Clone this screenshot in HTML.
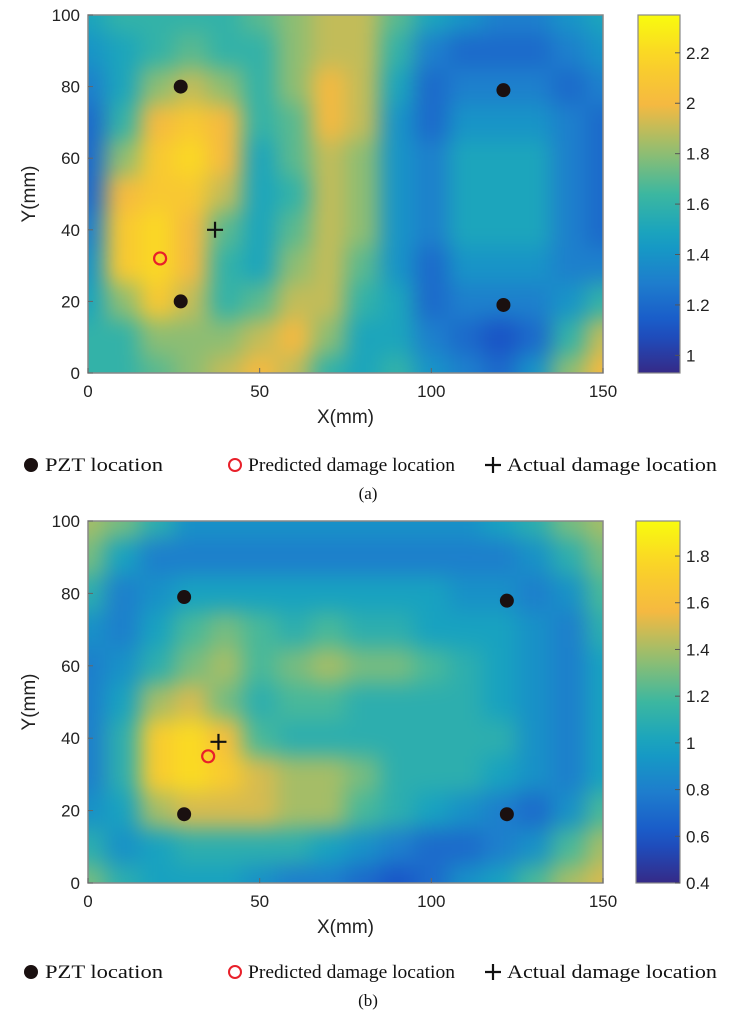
<!DOCTYPE html>
<html><head><meta charset="utf-8">
<style>
body{margin:0;background:#fff;width:737px;height:1024px;overflow:hidden}
svg{display:block}
.tk{font-family:"Liberation Sans",sans-serif;font-size:17px;fill:#222}
.lg{font-family:"Liberation Serif",serif;font-size:19px;fill:#111}
</style></head><body>
<svg id="chart" width="737" height="1024" viewBox="0 0 737 1024">
<defs>
<filter id="blurA" x="-10%" y="-10%" width="120%" height="120%" color-interpolation-filters="sRGB"><feGaussianBlur stdDeviation="11"/></filter>
<clipPath id="clipA"><rect x="88" y="15" width="515" height="358"/></clipPath>
<clipPath id="clipB"><rect x="88" y="521" width="515" height="362"/></clipPath>
</defs>
</svg>
<script>
const NS="http://www.w3.org/2000/svg";
const svg=document.getElementById('chart');
// grid x positions (mm) and y rows (mm, top to bottom)
const gridX=[0,10,20,30,40,50,60,70,80,90,100,110,120,130,140,150];
const gridY=[100,90,80,70,60,50,40,30,20,10,0];
const valuesA=[
[1.5,1.6,1.6,1.6,1.6,1.7,1.8,1.9,1.9,1.7,1.5,1.4,1.3,1.3,1.4,1.5],
[1.4,1.5,1.6,1.7,1.6,1.6,1.8,1.9,1.9,1.6,1.3,1.2,1.2,1.2,1.3,1.4],
[1.3,1.5,1.8,1.9,1.8,1.6,1.8,2.0,1.9,1.5,1.2,1.3,1.3,1.3,1.2,1.3],
[1.2,1.6,2.0,2.1,2.0,1.6,1.7,2.0,1.9,1.4,1.2,1.4,1.4,1.4,1.3,1.2],
[1.2,1.8,2.1,2.2,2.0,1.5,1.7,1.9,1.8,1.4,1.3,1.5,1.5,1.5,1.3,1.2],
[1.2,2.0,2.1,2.1,1.9,1.5,1.6,1.9,1.8,1.4,1.3,1.5,1.5,1.5,1.3,1.2],
[1.3,2.1,2.2,2.0,1.7,1.5,1.7,1.9,1.8,1.4,1.3,1.5,1.5,1.5,1.3,1.2],
[1.4,2.1,2.2,2.0,1.6,1.5,1.8,1.9,1.7,1.4,1.2,1.4,1.4,1.4,1.3,1.3],
[1.5,1.8,2.1,1.9,1.6,1.7,1.9,1.9,1.6,1.5,1.2,1.3,1.3,1.3,1.4,1.6],
[1.6,1.6,1.8,1.8,1.8,1.9,2.0,1.8,1.5,1.5,1.3,1.2,1.1,1.2,1.6,1.9],
[1.6,1.6,1.7,1.8,1.9,2.0,1.9,1.6,1.5,1.6,1.4,1.3,1.2,1.4,1.8,2.0]];
const valuesB=[
[1.4,1.3,1.1,0.9,0.9,0.9,0.9,0.9,0.9,0.9,0.9,0.9,1.0,1.1,1.3,1.4],
[1.3,1.0,0.8,0.8,0.8,0.8,0.8,0.8,0.8,0.8,0.8,0.8,0.8,0.9,1.1,1.3],
[1.1,0.8,0.9,1.0,1.0,1.0,1.0,1.0,1.0,1.0,1.0,0.9,0.9,0.8,0.9,1.2],
[0.9,0.8,1.0,1.2,1.3,1.2,1.1,1.2,1.1,1.1,1.0,1.0,1.0,0.9,0.8,1.1],
[0.8,0.9,1.1,1.3,1.4,1.2,1.3,1.4,1.3,1.3,1.2,1.1,1.0,0.9,0.8,1.0],
[0.8,1.0,1.4,1.5,1.3,1.1,1.2,1.2,1.1,1.1,1.1,1.1,1.0,0.9,0.8,1.0],
[0.8,1.1,1.7,1.8,1.6,1.2,1.1,1.1,1.1,1.1,1.1,1.1,1.1,0.9,0.8,1.0],
[0.8,1.1,1.7,1.8,1.7,1.5,1.4,1.4,1.3,1.1,1.1,1.1,1.0,0.9,0.8,1.0],
[0.9,1.0,1.4,1.5,1.5,1.5,1.4,1.4,1.2,1.1,1.0,0.9,0.8,0.7,0.9,1.2],
[1.1,0.9,1.0,1.1,1.1,1.1,1.1,1.0,0.9,0.8,0.7,0.7,0.8,0.9,1.2,1.4],
[1.3,1.1,1.0,1.0,1.0,0.9,0.8,0.8,0.7,0.6,0.7,0.9,1.0,1.2,1.4,1.5]];
const xTicks=[0,50,100,150];
const yTicks=[0,20,40,60,80,100];
const cbTicksA=[1,1.2,1.4,1.6,1.8,2,2.2];
const cbTicksB=[0.4,0.6,0.8,1,1.2,1.4,1.6,1.8];
const pztA=[[27,80],[121,79],[27,20],[121,19]];
const predA=[21,32], actA=[37,40];
const pztB=[[28,79],[122,78],[28,19],[122,19]];
const predB=[35,35], actB=[38,39];

const stops=[[0,[53,42,135]],[0.125,[25,85,200]],[0.25,[30,125,205]],[0.375,[20,160,195]],[0.5,[60,183,160]],[0.625,[150,190,110]],[0.75,[245,185,65]],[0.875,[250,210,40]],[1,[249,251,14]]];
function cmap(t){t=Math.max(0,Math.min(1,t));for(let i=1;i<stops.length;i++){if(t<=stops[i][0]){const a=stops[i-1],b=stops[i];const f=(t-a[0])/(b[0]-a[0]);const c=a[1].map((v,k)=>Math.round(v+(b[1][k]-v)*f));return `rgb(${c})`;}}return 'rgb(249,251,14)';}
function el(tag,attrs,parent){const e=document.createElementNS(NS,tag);for(const k in attrs)e.setAttribute(k,attrs[k]);(parent||svg).appendChild(e);return e;}

function panel(P){
  const xs=v=>P.x0+(v/150)*P.w, ys=v=>P.y0+P.h-(v/100)*P.h;
  const cs=v=>P.y0+P.h-(v-P.vmin)/(P.vmax-P.vmin)*P.h;
  const g=el('g',{'clip-path':`url(#${P.clip})`});
  
  
  const inner=el('g',{filter:'url(#blurA)'},g);
  P.vals.forEach((row,r)=>row.forEach((v,c)=>{
    let x1=xs(gridX[c]-5),x2=xs(gridX[c]+5),y1=ys(gridY[r]+5),y2=ys(gridY[r]-5);
    if(c===0)x1-=30; if(c===row.length-1)x2+=30; if(r===0)y1-=30; if(r===P.vals.length-1)y2+=30;
    const rc=el('rect',{x:x1,y:y1,width:x2-x1+0.5,height:y2-y1+0.5,fill:cmap((v-P.vmin)/(P.vmax-P.vmin))},inner);
    
    
  }));
  const fr=el('rect',{x:P.x0,y:P.y0,width:P.w,height:P.h,fill:'none',stroke:'#888','stroke-width':1.5});
  
  
  xTicks.forEach(t=>{
    el('line',{x1:xs(t),x2:xs(t),y1:P.y0+P.h,y2:P.y0+P.h-5,stroke:'#666'});
    const tx=el('text',{x:xs(t),y:P.y0+P.h+24,'text-anchor':'middle',class:'tk'});tx.textContent=t;
    
    
  });
  yTicks.forEach(t=>{
    el('line',{x1:P.x0,x2:P.x0+5,y1:ys(t),y2:ys(t),stroke:'#666'});
    const tx=el('text',{x:P.x0-8,y:ys(t)+6,'text-anchor':'end',class:'tk'});tx.textContent=t;
    
    
  });
  const xl=el('text',{x:P.x0+P.w/2,y:P.y0+P.h+50,'text-anchor':'middle',class:'tk',style:'font-size:19px'});xl.textContent='X(mm)';
  
  
  const yl=el('text',{x:0,y:0,'text-anchor':'middle',class:'tk',style:'font-size:19px',transform:`translate(35,${P.y0+P.h/2}) rotate(-90)`});yl.textContent='Y(mm)';
  
  
  const gid='grad'+P.id;
  const lg=el('linearGradient',{id:gid,x1:0,y1:1,x2:0,y2:0},svg.querySelector('defs'));
  for(let i=0;i<=20;i++)el('stop',{offset:i/20,'stop-color':cmap(i/20)},lg);
  const cb=el('rect',{x:P.cbx,y:P.y0,width:P.cbw,height:P.h,fill:`url(#${gid})`,stroke:'#888','stroke-width':1.2});
  
  
  P.cbt.forEach(t=>{
    el('line',{x1:P.cbx+P.cbw-5,x2:P.cbx+P.cbw,y1:cs(t),y2:cs(t),stroke:'#555'});
    const tx=el('text',{x:P.cbx+P.cbw+6,y:cs(t)+6,class:'tk'});tx.textContent=t;
    
    
  });
  P.pzt.forEach(p=>{const c=el('circle',{cx:xs(p[0]),cy:ys(p[1]),r:7,fill:'#1a1010'});
    
    });
  const pc=el('circle',{cx:xs(P.pred[0]),cy:ys(P.pred[1]),r:6,fill:'none',stroke:'#e8202a','stroke-width':2.2});
  
  
  const ax=xs(P.act[0]),ay=ys(P.act[1]);
  const pl=el('path',{d:`M${ax-8},${ay}H${ax+8}M${ax},${ay-8}V${ay+8}`,stroke:'#111','stroke-width':2.2});
  
  
  const ly=P.ly;
  const lgG=el('g',{});
  
  
  el('circle',{cx:31,cy:ly-6,r:7,fill:'#1a1010'},lgG);
  let t=el('text',{x:45,y:ly,class:'lg',textLength:118,lengthAdjust:'spacingAndGlyphs'},lgG);t.textContent='PZT location';
  el('circle',{cx:235,cy:ly-6,r:6,fill:'none',stroke:'#e8202a','stroke-width':2},lgG);
  t=el('text',{x:248,y:ly,class:'lg',textLength:207,lengthAdjust:'spacingAndGlyphs'},lgG);t.textContent='Predicted damage location';
  el('path',{d:`M485,${ly-6}H501M493,${ly-14}V${ly+2}`,stroke:'#111','stroke-width':2.2},lgG);
  t=el('text',{x:507,y:ly,class:'lg',textLength:210,lengthAdjust:'spacingAndGlyphs'},lgG);t.textContent='Actual damage location';
  const cap=el('text',{x:368,y:P.capy,'text-anchor':'middle',class:'lg',style:'font-size:17px'});
  cap.textContent=P.cap;
  
  
}
panel({id:'panel-a',x0:88,y0:15,w:515,h:358,clip:'clipA',vals:valuesA,vmin:0.93,vmax:2.35,cbx:638,cbw:42,cbt:cbTicksA,pzt:pztA,pred:predA,act:actA,ly:471,capy:499,cap:'(a)'});
panel({id:'panel-b',x0:88,y0:521,w:515,h:362,clip:'clipB',vals:valuesB,vmin:0.4,vmax:1.95,cbx:636,cbw:44,cbt:cbTicksB,pzt:pztB,pred:predB,act:actB,ly:978,capy:1006,cap:'(b)'});
</script>
</body></html>
